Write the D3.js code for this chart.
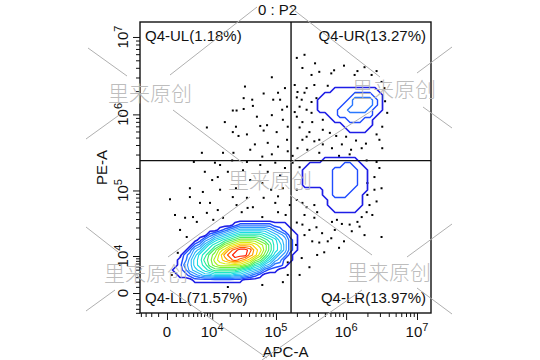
<!DOCTYPE html>
<html>
<head>
<meta charset="utf-8">
<script src="https://cdn.jsdelivr.net/npm/d3@7"></script>
<style>
  body { margin: 0; background: #fff; }
  svg { display: block; font-family: "Liberation Sans", Arial, sans-serif; }
</style>
</head>
<body>
<div id="chart"></div>
<script>
// ---- gate / labels ----
const gateName = "0 : P2";
const xTitle = "APC-A";
const yTitle = "PE-A";
const quadrantNames = ["Q4-UL", "Q4-UR", "Q4-LL", "Q4-LR"];
const quadrantPct = [1.18, 13.27, 71.57, 13.97];
const gateX = 165000;   // APC split
const gateY = 250000;   // PE split

// axis ticks (biexponential display)
const majorTicks = [0, 1e4, 1e5, 1e6, 1e7];
const majorExp = [null, 4, 5, 6, 7];

// ---- contour maps: number of density contours enclosing each grid node ----
// rows top -> bottom, digits base 36; extents are log10(APC), log10(PE) of first/last node
const llLevels = [
  "000000000000000000000000000",
  "000000000000000000000000000",
  "000000000000012222222111000",
  "000000000012345555554321100",
  "000000002345678888876543110",
  "0000001346789abbbba98754210",
  "00000235789bcdeeedcb9764210",
  "000024578acdfghhgedb9764210",
  "00023578abdfghhhfeca8643100",
  "00124679acdefgfedba86431100",
  "00134678abcccccba8754221000",
  "011245678999998765421100000",
  "001123455666655432100000000",
  "000001111111111000000000000",
  "000000000000000000000000000"
];
const llExtent = { x: [2.486, 5.3455], y: [4.6596, 3.128] };

const urLevels = [
  "00000000000000000",
  "00000000000000000",
  "00000111111111000",
  "00011111122221100",
  "00111111233332100",
  "00111112233332100",
  "00111122333321100",
  "00001122222221000",
  "00000111222110000",
  "00000001111110000",
  "00000000111100000",
  "00000000000000000",
  "00000000000000000"
];
const urExtent = { x: [5.488, 6.6195], y: [6.4447, 5.667] };

const lrLevels = [
  "00000000000000000",
  "00000000000000000",
  "00000011111110000",
  "00011111112211000",
  "00111111222221100",
  "00111111222221100",
  "00111111222221100",
  "00111111222221100",
  "00000011222211100",
  "00000011222111000",
  "00000001111111000",
  "00000001111111000",
  "00000000111110000",
  "00000000000000000",
  "00000000000000000"
];
const lrExtent = { x: [5.274, 6.4078], y: [5.5367, 4.5876] };

// ---- outlying events drawn as dots: [log10 APC, log10 PE] ----
const ulEvents = [
  [4.54,6.36],[4.52,6.21],[4.65,6.19],[4.82,6.27],[4.66,6.11],[4.35,6.05],[4.41,6.05],[4.52,6.07],
  [4.72,5.97],[4.22,5.90],[3.90,5.83],[4.40,5.84],[4.35,5.77],[4.77,5.85],[4.87,5.86],[4.44,5.72],
  [4.57,5.74],[4.82,5.79],[3.80,5.50],[4.19,5.50],[4.36,5.50],[4.94,6.48],[5.03,6.28],[5.13,6.34],
  [4.96,6.19],[5.06,6.19],[5.16,6.10],[4.94,5.99],[5.09,6.06],[5.17,5.84],[5.01,5.77],[5.16,5.67],
  [5.03,5.58],[4.94,5.48],[5.17,5.52],[4.88,5.63],[4.69,5.61],[4.62,5.54],[4.80,5.45],[5.10,5.93]
];
const urEvents = [
  [5.30,6.73],[5.41,6.77],[5.56,6.66],[5.38,6.60],[5.62,6.55],[5.51,6.51],[5.79,6.53],[5.83,6.57],
  [5.97,6.63],[6.12,6.51],[6.16,6.56],[6.26,6.61],[6.36,6.51],[6.43,6.56],[6.50,6.42],[6.54,6.34],
  [5.27,6.38],[5.44,6.34],[5.55,6.38],[5.74,6.37],[5.31,6.29],[5.41,6.28],[5.30,6.22],[5.51,6.16],
  [5.37,6.19],[5.58,6.21],[5.34,6.10],[5.44,6.06],[5.27,6.03],[5.51,6.02],[5.30,5.97],[5.38,5.90],
  [5.52,5.90],[5.67,5.93],[5.34,5.83],[5.48,5.77],[5.67,5.80],[5.77,5.76],[5.86,5.72],[6.00,5.71],
  [6.14,5.66],[6.28,5.62],[6.43,5.74],[6.47,5.67],[6.51,5.84],[6.58,6.02],[6.55,6.17],[5.38,5.67],
  [5.55,5.65],[5.67,5.61],[5.31,5.56],[5.45,5.54],[5.62,5.50],[5.80,5.56],[5.94,5.61],[6.07,5.54],
  [6.22,5.56],[6.51,5.56],[5.24,5.46],[5.90,5.46],[6.05,5.48],[5.44,5.71],[5.62,5.67]
];
const llEvents = [
  [3.62,5.38],[4.05,5.37],[4.14,5.34],[4.34,5.40],[4.57,5.38],[4.77,5.34],[4.99,5.37],[5.13,5.30],
  [3.86,5.25],[4.27,5.25],[4.51,5.27],[4.88,5.25],[5.06,5.20],[4.00,5.14],[4.10,5.18],[4.62,5.14],
  [4.80,5.10],[3.52,5.03],[3.82,4.98],[4.14,5.01],[4.40,5.03],[4.93,5.01],[5.10,5.03],[3.52,4.91],
  [2.49,4.88],[4.35,4.91],[4.57,4.90],[4.82,4.90],[5.03,4.92],[3.76,4.83],[3.96,4.83],[4.41,4.80],
  [4.66,4.77],[4.99,4.83],[5.20,4.80],[3.90,4.69],[4.10,4.73],[4.49,4.70],[4.58,4.76],[5.03,4.70],
  [2.95,4.66],[3.38,4.62],[3.60,4.63],[3.69,4.56],[4.02,4.59],[4.19,4.62],[4.80,4.63],[5.14,4.66],
  [3.20,4.44],[3.43,4.33],[3.10,4.06],[2.70,3.55],[4.27,2.99],[4.80,3.13],[5.10,3.28],[5.17,3.55],
  [5.17,3.87]
];
const lrEvents = [
  [5.24,5.37],[5.34,5.31],[6.29,5.40],[6.43,5.38],[6.47,5.30],[6.40,5.18],[6.30,5.10],[6.50,5.03],
  [6.30,4.94],[6.43,4.85],[6.40,5.01],[6.37,4.66],[6.33,4.80],[6.29,4.70],[6.22,4.63],[6.16,4.56],
  [5.30,4.87],[5.38,4.83],[5.44,4.77],[5.55,4.80],[5.59,4.70],[5.41,4.66],[5.55,4.62],[5.30,4.55],
  [5.38,4.52],[5.48,4.44],[5.58,4.48],[5.66,4.39],[5.41,4.36],[5.52,4.26],[5.62,4.24],[5.74,4.26],
  [5.69,4.07],[5.59,4.02],[5.37,3.96],[5.48,3.76],[5.97,4.26],[6.08,4.42],[6.19,4.49],[6.26,4.36],
  [6.50,4.33],[5.87,4.59],[5.94,4.53],[5.80,4.56],[6.05,4.52],[5.84,4.44],[5.90,4.15],[5.79,4.31],
  [5.29,4.20],[5.34,3.55],[5.30,5.01]
];

// contour colours, outermost -> innermost
const levelColors = ["#1e1ee6","#1f4cff","#2a78ff","#2f98ff","#2ab4f8","#22cbef","#1cdce0","#1ee6c4",
  "#2aeb98","#48ee62","#78f038","#aaf020","#d8ec10","#fcd200","#ff9c00","#ff5c00","#ff1e00"];

// ---- layout ----
const W = 540, H = 360;
const plot = { left: 140, right: 431, top: 22, bottom: 313 };

const svg = d3.select("#chart").append("svg").attr("width", W).attr("height", H);

const x = d3.scaleSymlog().constant(3000).domain([-4200, 1.575e7]).range([plot.left, plot.right]);
const y = d3.scaleSymlog().constant(5000).domain([-4050, 1.56e7]).range([plot.bottom, plot.top]);

// dots
const allEvents = [...ulEvents, ...urEvents, ...llEvents, ...lrEvents];
svg.append("g").selectAll("rect").data(allEvents).join("rect")
  .attr("x", d => x(10 ** d[0]) - 1)
  .attr("y", d => y(10 ** d[1]) - 1)
  .attr("width", 2).attr("height", 2)
  .attr("fill", "#000");

// contours
const thresholds = d3.range(1, levelColors.length + 1).map(k => k - 0.5);
function drawContours(levels, ext) {
  const rows = levels.length, cols = levels[0].length;
  const values = levels.flatMap(r => Array.from(r, ch => parseInt(ch, 36)));
  const gx = d3.scaleLinear().domain([0, cols - 1]).range([x(10 ** ext.x[0]), x(10 ** ext.x[1])]);
  const gy = d3.scaleLinear().domain([0, rows - 1]).range([y(10 ** ext.y[0]), y(10 ** ext.y[1])]);
  const contours = d3.contours().size([cols, rows]).thresholds(thresholds)(values)
    .filter(c => c.coordinates.length);
  const path = d3.geoPath(d3.geoTransform({
    point(px, py) { this.stream.point(gx(px - 0.5), gy(py - 0.5)); }
  }));
  svg.append("g").selectAll("path").data(contours).join("path")
    .attr("d", path)
    .attr("fill", "none")
    .attr("stroke", d => levelColors[Math.round(d.value + 0.5) - 1])
    .attr("stroke-width", d => d.value < 1 ? 1.7 : (d.value < 3 ? 1.4 : 1.1))
    .attr("stroke-linejoin", "round");
}
drawContours(llLevels, llExtent);
drawContours(urLevels, urExtent);
drawContours(lrLevels, lrExtent);

// quadrant lines + frame
svg.append("line").attr("x1", x(gateX)).attr("x2", x(gateX))
  .attr("y1", plot.top).attr("y2", plot.bottom).attr("stroke", "#111").attr("stroke-width", 1.4);
svg.append("line").attr("x1", plot.left).attr("x2", plot.right)
  .attr("y1", y(gateY)).attr("y2", y(gateY)).attr("stroke", "#111").attr("stroke-width", 1.4);
svg.append("rect").attr("x", plot.left).attr("y", plot.top)
  .attr("width", plot.right - plot.left).attr("height", plot.bottom - plot.top)
  .attr("fill", "none").attr("stroke", "#111").attr("stroke-width", 1.4);

// axes
const minorTicks = [];
for (let m = 1; m <= 4; m++) minorTicks.push(-m * 1000);
for (let e = 3; e <= 6; e++) for (let m = (e === 3 ? 1 : 2); m <= 9; m++) minorTicks.push(m * 10 ** e);

function styleAxis(g) {
  g.select(".domain").remove();
  g.selectAll(".tick line").attr("stroke", "#111").attr("stroke-width", 1);
}
svg.append("g").attr("transform", `translate(0,${plot.bottom})`)
  .call(d3.axisBottom(x).tickValues(minorTicks).tickSize(4).tickSizeOuter(0).tickFormat(""))
  .call(styleAxis);
svg.append("g").attr("transform", `translate(0,${plot.bottom})`)
  .call(d3.axisBottom(x).tickValues(majorTicks).tickSize(7).tickSizeOuter(0).tickFormat(""))
  .call(styleAxis);
svg.append("g").attr("transform", `translate(${plot.left},0)`)
  .call(d3.axisLeft(y).tickValues(minorTicks).tickSize(4).tickSizeOuter(0).tickFormat(""))
  .call(styleAxis);
svg.append("g").attr("transform", `translate(${plot.left},0)`)
  .call(d3.axisLeft(y).tickValues(majorTicks).tickSize(7).tickSizeOuter(0).tickFormat(""))
  .call(styleAxis);

function writeLabel(sel, i) {
  sel.append("tspan").text(i === 0 ? "0" : "10");
  if (majorExp[i] !== null) {
    sel.append("tspan").attr("dy", -6).attr("font-size", 11).text(majorExp[i]);
  }
}
majorTicks.forEach((v, i) => {
  const t = svg.append("text").attr("x", x(v)).attr("y", 337)
    .attr("text-anchor", "middle").attr("font-size", 15).attr("fill", "#111");
  writeLabel(t, i);
  const ty = svg.append("text")
    .attr("transform", `translate(128,${y(v)}) rotate(-90)`)
    .attr("text-anchor", "middle").attr("font-size", 15).attr("fill", "#111");
  writeLabel(ty, i);
});

// titles
svg.append("text").attr("x", 277.5).attr("y", 15).attr("text-anchor", "middle")
  .attr("font-size", 15).attr("fill", "#111").text(gateName);
svg.append("text").attr("x", (plot.left + plot.right) / 2).attr("y", 357).attr("text-anchor", "middle")
  .attr("font-size", 15).attr("fill", "#111").text(xTitle);
svg.append("text").attr("transform", `translate(107,${(plot.top + plot.bottom) / 2}) rotate(-90)`)
  .attr("text-anchor", "middle").attr("font-size", 15).attr("fill", "#111").text(yTitle);

// quadrant statistics
const qLabel = i => `${quadrantNames[i]}(${quadrantPct[i].toFixed(2)}%)`;
const qPos = [
  { x: plot.left + 5, y: plot.top + 19, anchor: "start" },
  { x: plot.right - 5, y: plot.top + 19, anchor: "end" },
  { x: plot.left + 5, y: plot.bottom - 10, anchor: "start" },
  { x: plot.right - 5, y: plot.bottom - 10, anchor: "end" }
];
qPos.forEach((p, i) => {
  svg.append("text").attr("x", p.x).attr("y", p.y).attr("text-anchor", p.anchor)
    .attr("font-size", 15).attr("fill", "#111").text(qLabel(i));
});

// watermark overlay of the source image
const watermarkText = "里来原创";
const watermarkSpots = [[150, 93], [394, 89], [270, 180], [146, 273], [389, 272]];
const watermarkRules = [
  [[88,48],[127,76]], [[173,110],[243,163]], [[290,195],[372,255]], [[417,288],[452,314]],
  [[452,47],[417,73]], [[373,110],[290,163]], [[250,197],[168,257]], [[115,290],[86,311]],
  [[290,7],[380,77]], [[423,107],[452,128]],
  [[257,7],[170,75]], [[122,113],[86,139]],
  [[86,227],[118,252]], [[170,290],[267,358]],
  [[452,224],[407,257]], [[362,290],[262,360]]
];
const wm = svg.append("g").attr("pointer-events", "none");
wm.selectAll("line").data(watermarkRules).join("line")
  .attr("x1", d => d[0][0]).attr("y1", d => d[0][1])
  .attr("x2", d => d[1][0]).attr("y2", d => d[1][1])
  .attr("stroke", "#b0b0b0").attr("stroke-width", 1);
wm.selectAll("text").data(watermarkSpots).join("text")
  .attr("x", d => d[0]).attr("y", d => d[1] + 8)
  .attr("text-anchor", "middle")
  .attr("font-family", "'Noto Sans CJK SC', sans-serif")
  .attr("font-size", 21)
  .attr("font-weight", 300)
  .attr("fill", "#b4b4b4")
  .attr("fill-opacity", 0.9)
  .text(watermarkText);
</script>
</body>
</html>
